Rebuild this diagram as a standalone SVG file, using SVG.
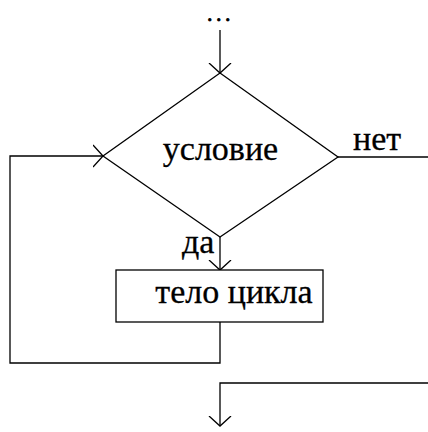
<svg xmlns="http://www.w3.org/2000/svg" width="428" height="432" viewBox="0 0 428 432">
<style>
.ln{fill:none;stroke:#000;stroke-width:1.3}
.sh{fill:#fff;stroke:#000;stroke-width:1.3}
.t{font-family:'Liberation Serif','Times New Roman',serif;font-size:34px;fill:#000;stroke:#000;stroke-width:0.3}
.d{font-family:'Liberation Serif','Times New Roman',serif;font-size:22px;letter-spacing:3.5px;fill:#000;stroke:#000;stroke-width:0.8}
</style>
<defs>
<marker id="ah" viewBox="0 0 12 24" refX="10" refY="12" markerWidth="12" markerHeight="24" markerUnits="userSpaceOnUse" orient="auto">
<path d="M0,1 L10,12 L0,23" fill="none" stroke="#000" stroke-width="1.3"/>
</marker>
</defs>
<rect width="428" height="432" fill="#fff"/>
<text class="d" x="207" y="21">...</text>
<g id="connectors">
<path class="ln" d="M220,30 L220,73" marker-end="url(#ah)"/>
<path class="ln" d="M220,237 L220,270" marker-end="url(#ah)"/>
<path class="ln" d="M220,322 L220,363 L10,363 L10,156 L103,156" marker-end="url(#ah)"/>
<path class="ln" d="M338,157 L428,157"/>
<path class="ln" d="M428,383 L220,383 L220,426" marker-end="url(#ah)"/>
</g>
<g id="condition">
<polygon class="sh" points="220,73 338,157 220,237 103,156"/>
<text class="t" x="220.5" y="160" text-anchor="middle">условие</text>
</g>
<g id="body">
<rect class="sh" x="116" y="270" width="207" height="52"/>
<text class="t" x="234" y="303" text-anchor="middle">тело цикла</text>
</g>
<text class="t" x="353" y="150">нет</text>
<text class="t" x="182" y="253">да</text>
</svg>
